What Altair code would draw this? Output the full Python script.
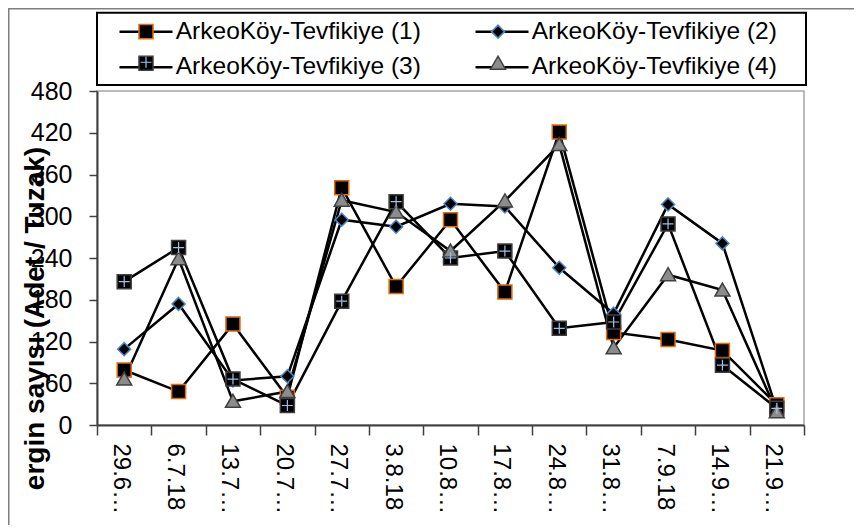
import altair as alt
import pandas as pd

dates = ["29.6…", "6.7.18", "13.7…", "20.7…", "27.7…", "3.8.18", "10.8…",
         "17.8…", "24.8…", "31.8…", "7.9.18", "14.9…", "21.9…"]
series_names = ["ArkeoKöy-Tevfikiye (1)", "ArkeoKöy-Tevfikiye (2)",
                "ArkeoKöy-Tevfikiye (3)", "ArkeoKöy-Tevfikiye (4)"]
s1 = [79, 48, 145, 40, 341, 199, 295, 191, 421, 133, 123, 107, 29]
s2 = [109, 174, 64, 70, 295, 285, 318, 314, 226, 160, 317, 261, 22]
s3 = [206, 255, 66, 28, 178, 321, 240, 250, 139, 148, 289, 86, 24]
s4 = [66, 239, 34, 48, 323, 306, 250, 322, 403, 111, 216, 194, 19]
y_ticks = [0, 60, 120, 180, 240, 300, 360, 420, 480]

rows = []
for name, vals in zip(series_names, [s1, s2, s3, s4]):
    for i, (d, v) in enumerate(zip(dates, vals)):
        rows.append({"date": d, "idx": i, "series": name, "s_pt": name,
                     "s_cross": name, "value": v})
df = pd.DataFrame(rows)

# symbol paths (unit box scaled by sqrt(size)/2); EXT = invisible layout extent
EXT = "M-4.31,0M27.69,0M0,-1.238M0,1.238"
SQ = "M-0.667,-0.667H0.667V0.667H-0.667Z"
DIA = "M0,-0.62L0.62,0L0,0.62L-0.62,0Z"
TRI = "M0,-0.667L0.714,0.571H-0.714Z"
CROSS = "M-0.52,0H0.52M0,-0.52V0.52"
LINE = "M-2.524,0H2.524"

common = dict(orient="none", legendX=0, legendY=-77, columns=2, direction="horizontal",
              title=None, padding=5, rowPadding=-1, columnPadding=9, symbolSize=441,
              symbolOffset=31.75, labelOffset=17.5, labelFontSize=24.5,
              labelFont="Liberation Sans", labelColor="black", labelLimit=0)

x_enc = alt.X("date:N", sort=dates,
              scale=alt.Scale(type="band", paddingInner=0, paddingOuter=0),
              axis=alt.Axis(title=None, labelAngle=90, labelAlign="left",
                            labelBaseline="middle", labelFontSize=24,
                            labelPadding=8, labelOffset=-4, tickSize=10,
                            tickBand="extent", tickColor="#404040", tickWidth=1.5,
                            domainColor="#404040", domainWidth=2,
                            labelColor="black", grid=False))
y_enc = alt.Y("value:Q", scale=alt.Scale(domain=[0, 480], nice=False, zero=True),
              axis=alt.Axis(values=y_ticks, title="ergin sayısı (Adet / Tuzak)",
                            titleFontSize=28, titleFontWeight="bold",
                            titleX=-54, titleY=227, titleAngle=270,
                            titleAlign="center", titleBaseline="alphabetic",
                            titleColor="black", labelFontSize=25,
                            labelColor="black", labelPadding=17, tickSize=8,
                            tickColor="#404040", tickWidth=1.5,
                            domainColor="#404040", domainWidth=2, grid=False))

frame_df = pd.DataFrame({"k": [0]})
frame = alt.Chart(frame_df).mark_rect(
    fillOpacity=0, stroke="#7f7f7f", strokeWidth=1.5
).encode(x=alt.value(-88.25), x2=alt.value(760),
         y=alt.value(-82.25), y2=alt.value(520))

legend_box = alt.Chart(frame_df).mark_rect(
    fill="white", stroke="black", strokeWidth=2
).encode(x=alt.value(0), x2=alt.value(709),
         y=alt.value(-78.3), y2=alt.value(-6))

lines = alt.Chart(df).mark_line(strokeWidth=2.5).encode(
    x=x_enc, y=y_enc,
    color=alt.Color("series:N", scale=alt.Scale(range=["black"] * 4),
                    legend=alt.Legend(**common, symbolType=EXT + LINE,
                                      symbolStrokeWidth=2.5)),
    order=alt.Order("idx:Q"),
)

pt_legend = alt.Legend(**common, symbolStrokeWidth=1.5, labelExpr="''")
points = alt.Chart(df).mark_point(filled=True, size=441, strokeWidth=1.5, opacity=1).encode(
    x=x_enc, y=y_enc,
    shape=alt.Shape("s_pt:N", scale=alt.Scale(range=[EXT + SQ, EXT + DIA, EXT + SQ, EXT + TRI]),
                    legend=pt_legend),
    fill=alt.Fill("s_pt:N", scale=alt.Scale(range=["black", "black", "black", "#8c8c8c"]),
                  legend=pt_legend),
    stroke=alt.Stroke("s_pt:N", scale=alt.Scale(range=["#E46C0A", "#4A86C8", "#3f3f3f", "#404040"]),
                      legend=pt_legend),
)

crosses = alt.Chart(df).mark_point(filled=False, size=441, strokeWidth=1.2,
                                   color="#9DC3E6", opacity=1).encode(
    x=x_enc, y=y_enc,
    shape=alt.Shape("s_cross:N", scale=alt.Scale(range=[EXT, EXT, EXT + CROSS, EXT]),
                    legend=alt.Legend(**common, symbolStrokeWidth=1.2, labelExpr="''",
                                      symbolStrokeColor="#9DC3E6")),
)

chart = alt.layer(frame, legend_box, lines, points, crosses).resolve_scale(
    shape="independent", fill="independent", stroke="independent"
).resolve_legend(
    shape="independent", fill="independent", stroke="independent"
).properties(
    width=707, height=334,
    autosize=alt.AutoSizeParams(type="none"),
    padding={"left": 89, "top": 83, "right": 50, "bottom": 100},
).configure(font="Liberation Sans").configure_view(
    stroke="#A6A6A6", strokeWidth=1.5
)

chart.save("out.html", embed_options={"renderer": "svg", "actions": False})
